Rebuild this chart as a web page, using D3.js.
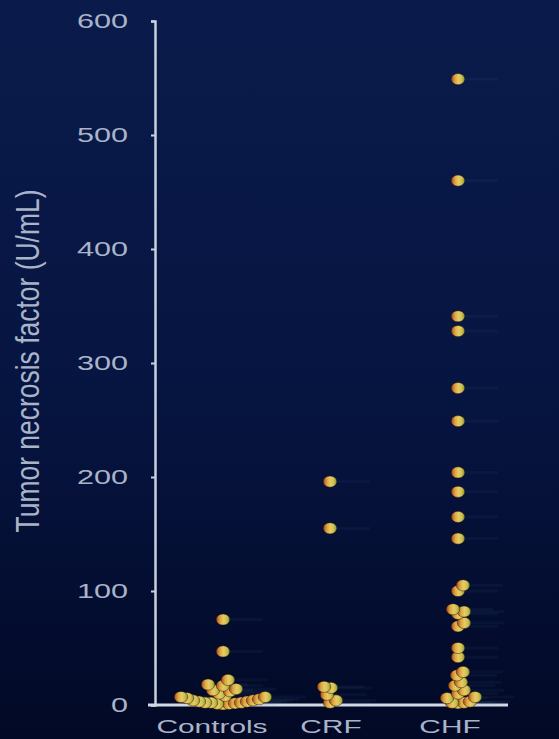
<!DOCTYPE html>
<html><head><meta charset="utf-8">
<script src="https://cdn.jsdelivr.net/npm/d3@7"></script>
<style>
html,body{margin:0;padding:0;background:#041030;}
svg{display:block;}
text{font-family:"Liberation Sans",Arial,sans-serif;}
</style></head><body>
<svg id="chart" width="559" height="739"></svg>
<script>
// ---- data ----
const categories = ["Controls", "CRF", "CHF"];
const controlsValues = [75, 47, 22, 18, 17, 14, 13, 12, 10, 8, 7, 7, 6, 5, 4, 4, 3, 3, 2, 2, 2, 1.5, 1, 1, 0.5];
const crfValues = [196, 155, 16, 15, 9, 4, 2];
const chfValues = [549, 460, 341, 328, 278, 249, 204, 187, 165, 146, 105, 100, 84, 82, 80, 72, 69, 50, 42, 29, 26, 20, 17, 13, 10, 7, 6, 3, 2, 2, 1.5];
const yTicks = [0, 100, 200, 300, 400, 500, 600];
const yLabel = "Tumor necrosis factor (U/mL)";

// ---- layout ----
const svg = d3.select("#chart");
const W = 559, H = 739;
const stretch = 1.57; // horizontal stretch of the source slide text

const defs = svg.append("defs");
const bg = defs.append("linearGradient").attr("id","bg").attr("x1",0).attr("y1",0).attr("x2",0).attr("y2",1);
bg.append("stop").attr("offset","0%").attr("stop-color","#0a1b4b");
bg.append("stop").attr("offset","55%").attr("stop-color","#061440");
bg.append("stop").attr("offset","100%").attr("stop-color","#020926");
const dotG = defs.append("linearGradient").attr("id","dot").attr("x1",0).attr("y1",0).attr("x2",1).attr("y2",0);
dotG.append("stop").attr("offset","0%").attr("stop-color","#a8401c");
dotG.append("stop").attr("offset","28%").attr("stop-color","#d9a640");
dotG.append("stop").attr("offset","55%").attr("stop-color","#e6cc66");
dotG.append("stop").attr("offset","80%").attr("stop-color","#cdbb50");
dotG.append("stop").attr("offset","100%").attr("stop-color","#6f9a2a");

svg.append("rect").attr("width",W).attr("height",H).attr("fill","url(#bg)");

const y = d3.scaleLinear().domain([0, 600]).range([705, 21]);
const x = d3.scalePoint().domain(categories).range([212, 450]);
const dotShift = {"Controls": 11, "CRF": -1, "CHF": 8};
const axisX = 155;

// y axis
const yAxis = svg.append("g").attr("transform", `translate(${axisX},0)`)
  .call(d3.axisLeft(y).tickValues(yTicks).tickSize(4).tickSizeOuter(4).tickFormat(d3.format("d")));
yAxis.select(".domain").attr("stroke","#c9d0dc").attr("stroke-width",2.5);
yAxis.selectAll(".tick line").attr("stroke","#c9d0dc").attr("stroke-width",2);
yAxis.selectAll(".tick text")
  .attr("x", -27 / stretch)
  .attr("transform", `scale(${stretch},1)`)
  .attr("fill","#aab4c8").attr("font-size",19.5);

// x axis line
svg.append("line").attr("x1",148).attr("x2",508).attr("y1",y(0)).attr("y2",y(0))
  .attr("stroke","#d3d9e3").attr("stroke-width",3);

// category labels
svg.append("g").selectAll("text").data(categories).join("text")
  .attr("transform", d => `translate(${x(d)},733) scale(${stretch},1)`)
  .attr("text-anchor","middle").attr("fill","#aab4c8").attr("font-size",19)
  .text(d => d);

// y label
svg.append("text")
  .attr("transform", `translate(28,361) scale(${stretch},1) rotate(-90)`)
  .attr("text-anchor","middle").attr("dominant-baseline","central")
  .attr("fill","#aab4c8").attr("font-size",21)
  .attr("textLength",343).attr("lengthAdjust","spacingAndGlyphs")
  .text(yLabel);

// ---- swarm layout ----
const groups = [
  {cat: "Controls", values: controlsValues},
  {cat: "CRF", values: crfValues},
  {cat: "CHF", values: chfValues}
];
const rx = 6.8, ry = 5.6, cx = 2.8, cy = 4.4;
const points = [];
groups.forEach(g => {
  const base = x(g.cat) + dotShift[g.cat];
  const placed = [];
  g.values.slice().sort((a,b) => a - b).forEach(v => {
    const py = y(v);
    let off = 0;
    for (let k = 0; k < 400; k++) {
      const cand = k === 0 ? 0 : (k % 2 ? 1 : -1) * Math.ceil(k / 2);
      const px = base + cand;
      const hit = placed.some(p => {
        const dx = (p.x - px) / (2 * cx), dy = (p.y - py) / (2 * cy);
        return dx*dx + dy*dy < 1;
      });
      if (!hit) { off = cand; break; }
    }
    const pt = {x: base + off, y: py, v};
    placed.push(pt); points.push(pt);
  });
});

// faint streaks
svg.append("g").selectAll("rect").data(points).join("rect")
  .attr("x", d => d.x + 6).attr("y", d => d.y - 1.5).attr("width", 34).attr("height", 3)
  .attr("fill","#5a7aa8").attr("opacity",0.07);

svg.append("g").selectAll("ellipse").data(points).join("ellipse")
  .attr("cx", d => d.x).attr("cy", d => d.y).attr("rx", rx).attr("ry", ry)
  .attr("fill","url(#dot)").attr("stroke","rgba(40,15,5,0.55)").attr("stroke-width",0.8);
</script>
</body></html>
